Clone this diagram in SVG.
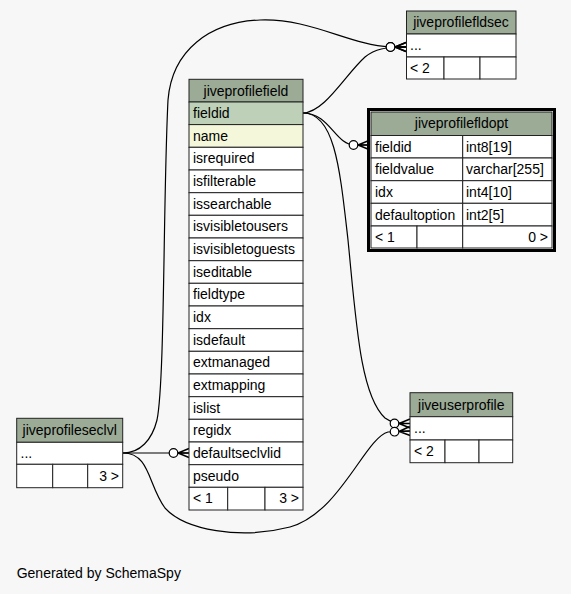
<svg xmlns="http://www.w3.org/2000/svg" width="571" height="594" viewBox="0 0 571 594">
<style>
text{font-family:"Liberation Sans",Arial,Helvetica,sans-serif;font-size:14px;fill:#000}
.c{text-anchor:middle}
.r{text-anchor:end}
.hd{fill:#9bab96;stroke:#222;stroke-width:1}
.pk{fill:#bed1b8;stroke:#222;stroke-width:1}
.ix{fill:#f4f7da;stroke:#222;stroke-width:1}
.cl{fill:#ffffff;stroke:#222;stroke-width:1}
.ft{fill:#ffffff;stroke:#222;stroke-width:1}
.ln{fill:none;stroke:#000;stroke-width:1.2}
</style>
<defs>
<marker id="crowodot" markerUnits="userSpaceOnUse" markerWidth="24" markerHeight="14" viewBox="-21 -7 22 14" refX="0" refY="0" orient="auto" overflow="visible">
<path d="M0,-4.5 L-11,0 L0,4.5 M-11,0 L0,0" fill="none" stroke="#000" stroke-width="1.5"/>
<circle cx="-15.5" cy="0" r="4.3" fill="#ffffff" stroke="#000" stroke-width="1.2"/>
</marker>
</defs>
<rect x="0" y="0" width="571" height="594" fill="#f7f7f7"/>

<g id="connectors">
<path class="ln" marker-end="url(#crowodot)" d="M123,453 C140,453 152,440 157,420 C165,380 163,200 168,100 C172,50 210,22 260,20 C310,18 350,45 390,47 L406,47"/>
<path class="ln" marker-end="url(#crowodot)" d="M303,113 C325,112 345,75 365,57 C375,49 385,47 406,47"/>
<path class="ln" marker-end="url(#crowodot)" d="M303,113 C330,113 335,145 355,145 L369,145"/>
<path class="ln" marker-end="url(#crowodot)" d="M303,113 C335,113 340,170 348,240 C356,320 360,395 385,418 C392,423.5 400,423.5 410,423.5"/>
<path class="ln" marker-end="url(#crowodot)" d="M123,453 L189,453"/>
<path class="ln" marker-end="url(#crowodot)" d="M123,453 C150,453 148,485 165,508 C185,530 240,540 290,527 C340,513 365,438 388,432 L410,431"/>
</g>

<g id="jiveprofilefldsec">
<rect class="hd" x="406.5" y="11" width="109.5" height="23"/>
<text class="c" x="461" y="27">jiveprofilefldsec</text>
<rect class="cl" x="406.5" y="34" width="109.5" height="23"/>
<text x="410" y="50">...</text>
<rect class="ft" x="406.5" y="57" width="37.5" height="22"/>
<rect class="ft" x="444" y="57" width="36" height="22"/>
<rect class="ft" x="480" y="57" width="36" height="22"/>
<text x="410" y="73">&lt; 2</text>
</g>

<g id="jiveprofilefldopt">
<rect x="368.5" y="109.5" width="186" height="141" fill="#ffffff" stroke="#000" stroke-width="3"/>
<rect class="hd" x="371" y="112" width="181" height="23.5"/>
<text class="c" x="461.5" y="128">jiveprofilefldopt</text>
<rect class="cl" x="371" y="135.5" width="91.7" height="22.5"/>
<rect class="cl" x="462.7" y="135.5" width="89.3" height="22.5"/>
<text x="375" y="151.5">fieldid</text>
<text x="466" y="151.5">int8[19]</text>
<rect class="cl" x="371" y="158" width="91.7" height="22.7"/>
<rect class="cl" x="462.7" y="158" width="89.3" height="22.7"/>
<text x="375" y="174">fieldvalue</text>
<text x="466" y="174">varchar[255]</text>
<rect class="cl" x="371" y="180.7" width="91.7" height="22.6"/>
<rect class="cl" x="462.7" y="180.7" width="89.3" height="22.6"/>
<text x="375" y="196.5">idx</text>
<text x="466" y="196.5">int4[10]</text>
<rect class="cl" x="371" y="203.3" width="91.7" height="22.7"/>
<rect class="cl" x="462.7" y="203.3" width="89.3" height="22.7"/>
<text x="375" y="219.5">defaultoption</text>
<text x="466" y="219.5">int2[5]</text>
<rect class="ft" x="371" y="226" width="46" height="22"/>
<rect class="ft" x="417" y="226" width="45.7" height="22"/>
<rect class="ft" x="462.7" y="226" width="89.3" height="22"/>
<text x="375" y="242">&lt; 1</text>
<text class="r" x="548" y="242">0 &gt;</text>
</g>

<g id="jiveprofilefield">
<rect class="hd" x="189" y="79.3" width="114" height="22.7"/>
<text class="c" x="246" y="95.5">jiveprofilefield</text>
<rect class="pk" x="189" y="102" width="114" height="22.6"/>
<text x="193" y="118">fieldid</text>
<rect class="ix" x="189" y="124.6" width="114" height="22.7"/>
<text x="193" y="140.7">name</text>
<rect class="cl" x="189" y="147.3" width="114" height="22.7"/>
<text x="193" y="163.4">isrequired</text>
<rect class="cl" x="189" y="170" width="114" height="22.7"/>
<text x="193" y="186">isfilterable</text>
<rect class="cl" x="189" y="192.7" width="114" height="22.6"/>
<text x="193" y="208.7">issearchable</text>
<rect class="cl" x="189" y="215.3" width="114" height="22.7"/>
<text x="193" y="231.4">isvisibletousers</text>
<rect class="cl" x="189" y="238" width="114" height="22.7"/>
<text x="193" y="254">isvisibletoguests</text>
<rect class="cl" x="189" y="260.7" width="114" height="22.6"/>
<text x="193" y="276.7">iseditable</text>
<rect class="cl" x="189" y="283.3" width="114" height="22.7"/>
<text x="193" y="299.4">fieldtype</text>
<rect class="cl" x="189" y="306" width="114" height="22.7"/>
<text x="193" y="322">idx</text>
<rect class="cl" x="189" y="328.7" width="114" height="22.6"/>
<text x="193" y="344.7">isdefault</text>
<rect class="cl" x="189" y="351.3" width="114" height="22.7"/>
<text x="193" y="367.4">extmanaged</text>
<rect class="cl" x="189" y="374" width="114" height="22.7"/>
<text x="193" y="390">extmapping</text>
<rect class="cl" x="189" y="396.7" width="114" height="22.6"/>
<text x="193" y="412.7">islist</text>
<rect class="cl" x="189" y="419.3" width="114" height="22.7"/>
<text x="193" y="435.4">regidx</text>
<rect class="cl" x="189" y="442" width="114" height="22.7"/>
<text x="193" y="458">defaultseclvlid</text>
<rect class="cl" x="189" y="464.7" width="114" height="22.6"/>
<text x="193" y="480.7">pseudo</text>
<rect class="ft" x="189" y="487.3" width="38.7" height="22.7"/>
<rect class="ft" x="227.7" y="487.3" width="37.3" height="22.7"/>
<rect class="ft" x="265" y="487.3" width="38" height="22.7"/>
<text x="193" y="503.4">&lt; 1</text>
<text class="r" x="299" y="503.4">3 &gt;</text>
</g>

<g id="jiveprofileseclvl">
<rect class="hd" x="16.7" y="418.3" width="106" height="24"/>
<text class="c" x="69.7" y="435">jiveprofileseclvl</text>
<rect class="cl" x="16.7" y="442.3" width="106" height="22"/>
<text x="20.5" y="458">...</text>
<rect class="ft" x="16.7" y="464.3" width="36" height="23.4"/>
<rect class="ft" x="52.7" y="464.3" width="35" height="23.4"/>
<rect class="ft" x="87.7" y="464.3" width="35" height="23.4"/>
<text class="r" x="119" y="481">3 &gt;</text>
</g>

<g id="jiveuserprofile">
<rect class="hd" x="410" y="392.7" width="102.7" height="24"/>
<text class="c" x="461.3" y="409.5">jiveuserprofile</text>
<rect class="cl" x="410" y="416.7" width="102.7" height="23.3"/>
<text x="414" y="433">...</text>
<rect class="ft" x="410" y="440" width="35" height="22.7"/>
<rect class="ft" x="445" y="440" width="34" height="22.7"/>
<rect class="ft" x="479" y="440" width="33.7" height="22.7"/>
<text x="414" y="456">&lt; 2</text>
</g>

<text x="16.7" y="578">Generated by SchemaSpy</text>
</svg>
